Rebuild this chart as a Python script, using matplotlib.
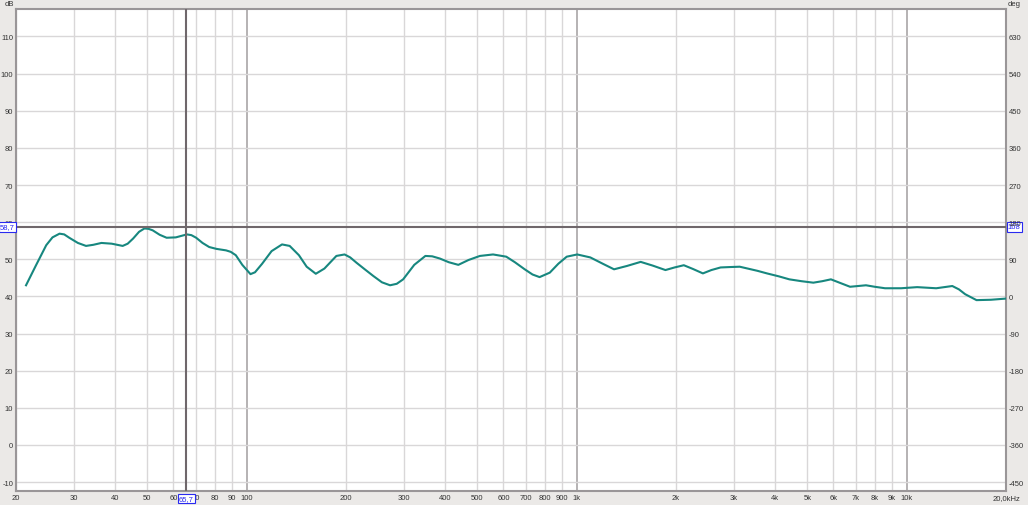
import matplotlib
matplotlib.use("Agg")
import matplotlib.pyplot as plt

plt.rcParams["font.family"] = ["Liberation Sans", "DejaVu Sans"]
plt.rcParams["axes.unicode_minus"] = False

freq = [21.45, 23.0, 24.7, 25.8, 27.1, 28.0, 29.0, 30.8, 32.6, 34.3, 36.3, 39.0,
        42.1, 43.6, 45.3, 47.2, 49.0, 50.4, 51.9, 54.5, 57.2, 61.0, 65.9, 68.0,
        70.3, 73.5, 77.0, 81.0, 86.6, 89.5, 92.7, 97.0, 102.7, 106, 111.4, 119,
        128, 135, 144, 152, 162, 172, 187, 198, 206, 215, 228, 242, 257, 272, 285,
        298, 322, 348, 365, 385, 410, 438, 470, 509, 558, 612, 650, 696, 735, 772,
        829, 880, 933, 1004, 1100, 1200, 1298, 1420, 1563, 1700, 1858, 1980, 2112,
        2250, 2413, 2560, 2730, 2900, 3120, 3528, 3772, 4100, 4410, 4800, 5214,
        5550, 5895, 6300, 6737, 7528, 8000, 8600, 9620, 10760, 12290, 13750,
        14400, 15040, 16280, 18000, 19900]
spl = [43.0, 48.4, 53.8, 55.9, 56.9, 56.7, 55.8, 54.4, 53.6, 53.9, 54.4, 54.2,
       53.6, 54.2, 55.6, 57.4, 58.3, 58.2, 57.8, 56.6, 55.8, 55.9, 56.7, 56.5,
       55.8, 54.4, 53.3, 52.8, 52.4, 52.0, 51.1, 48.5, 46.0, 46.5, 48.8, 52.2,
       54.0, 53.6, 51.1, 48.0, 46.1, 47.5, 50.9, 51.3, 50.5, 49.1, 47.3, 45.5, 43.8, 43.0, 43.4,
       44.6, 48.5, 50.9, 50.8, 50.2, 49.2, 48.5, 49.8, 50.9, 51.3, 50.7, 49.2, 47.3, 45.9, 45.2,
       46.4, 48.8, 50.7, 51.3, 50.5, 48.8, 47.3, 48.2, 49.3, 48.3, 47.1, 47.8, 48.4,
       47.4, 46.2, 47.1, 47.8, 47.9, 48.0, 46.9, 46.2, 45.4, 44.6, 44.1, 43.7,
       44.1, 44.6, 43.6, 42.6, 43.0, 42.6, 42.2, 42.2, 42.5, 42.2, 42.8,
       41.9, 40.6, 39.0, 39.1, 39.4]

x_ticks = [20, 30, 40, 50, 60, 70, 80, 90, 100, 200, 300, 400, 500, 600, 700, 800, 900,
           1000, 2000, 3000, 4000, 5000, 6000, 7000, 8000, 9000, 10000, 20000]
x_labels = ["20", "30", "40", "50", "60", "70", "80", "90", "100", "200", "300", "400",
            "500", "600", "700", "800", "900", "1k", "2k", "3k", "4k", "5k", "6k", "7k",
            "8k", "9k", "10k", "20,0kHz"]
db_ticks = list(range(-10, 120, 10))
deg_ticks = list(range(-450, 640, 90))

cursor_f = 65.7
cursor_db = 58.7

bg = "#ebe9e7"
txt = "#333333"
blue = "#2a2af0"
fs = 5.5

fig = plt.figure(figsize=(10.28, 5.06), dpi=100, facecolor=bg)
ax = fig.add_axes([16 / 1028, 14 / 506, 990 / 1028, 482 / 506])
ax.set_facecolor("white")
ax.set_xscale("log")
ax.set_xlim(20, 20000)
ax.set_ylim(-12.4, 117.4)

# grid
for f in x_ticks:
    dec = f in (100, 1000, 10000)
    ax.axvline(f, color="#a9a5a7" if dec else "#d9d7d8", lw=1.2 if dec else 1.0, zorder=1)
for d in db_ticks:
    ax.axhline(d, color="#d9d7d8", lw=1.0, zorder=1)

ax.plot(freq, spl, color="#17877f", lw=1.5, zorder=3)

# cursor
ax.axvline(cursor_f, color="#6f676b", lw=1.5, zorder=4)
ax.axhline(cursor_db, color="#6f676b", lw=1.5, zorder=4)

ax.set_xticks(x_ticks)
ax.set_xticklabels(x_labels)
ax.xaxis.set_minor_locator(matplotlib.ticker.NullLocator())
ax.set_yticks(db_ticks)
ax.tick_params(axis="both", length=0, labelsize=fs, colors=txt, pad=2)
for s in ax.spines.values():
    s.set_color("#9a9698")
    s.set_linewidth(1.5)

ax2 = ax.twinx()
ax2.set_ylim((-12.4 - 40) * 9, (117.4 - 40) * 9)
ax2.set_yticks(deg_ticks)
ax2.tick_params(axis="y", length=0, labelsize=fs, colors=txt, pad=2)
for s in ax2.spines.values():
    s.set_visible(False)

fig.text(5 / 1028, 1 - 5 / 506, "dB", fontsize=fs, color=txt, va="center")
fig.text(1008 / 1028, 1 - 5 / 506, "deg", fontsize=fs, color=txt, va="center")

box = dict(boxstyle="square,pad=0.15", fc="white", ec=blue, lw=0.8)
ax.annotate("58,7", xy=(0, cursor_db), xycoords=("axes fraction", "data"),
            xytext=(-6, 0), textcoords="offset points", ha="center", va="center",
            fontsize=fs, color=blue, bbox=box, zorder=6, annotation_clip=False)
ax.annotate("%d" % round((cursor_db - 40) * 9), xy=(1, cursor_db), xycoords=("axes fraction", "data"),
            xytext=(6, 0), textcoords="offset points", ha="center", va="center",
            fontsize=fs, color=blue, bbox=box, zorder=6, annotation_clip=False)
ax.annotate("65,7", xy=(cursor_f, 0), xycoords=("data", "axes fraction"),
            xytext=(0, -5.5), textcoords="offset points", ha="center", va="center",
            fontsize=fs, color=blue, bbox=box, zorder=6, annotation_clip=False)

fig.savefig("out.png", dpi=100, facecolor=bg)
